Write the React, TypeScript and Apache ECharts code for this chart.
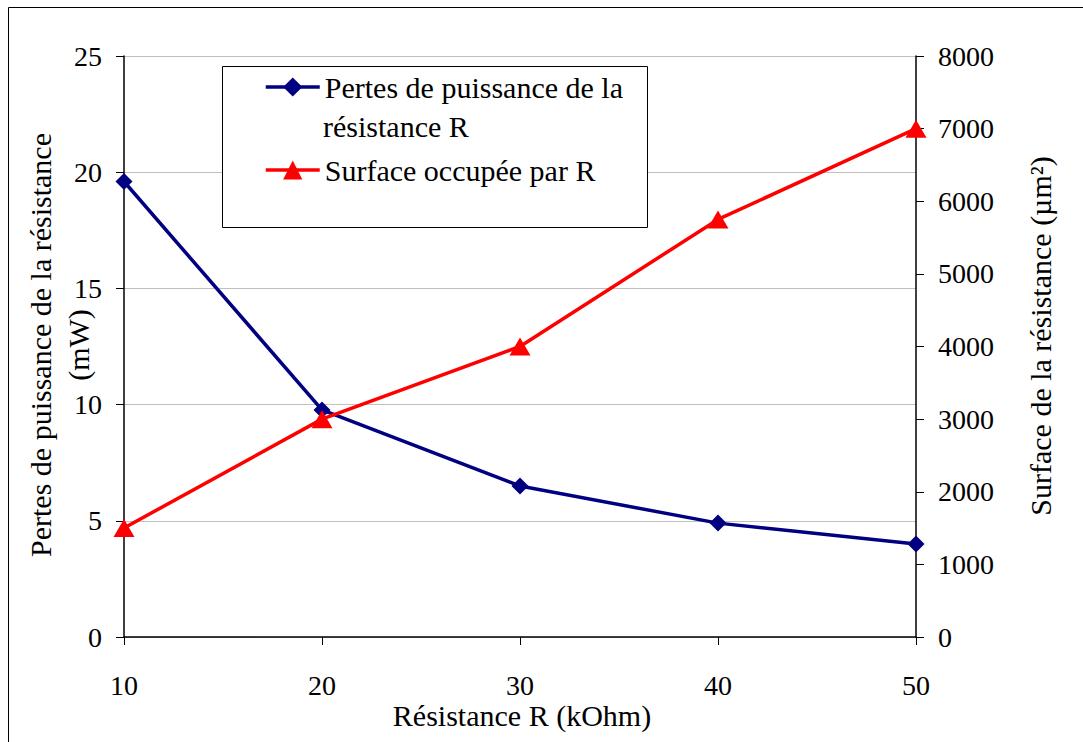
import React, { useEffect, useRef } from "react";
import * as echarts from "echarts";

const categories = ["10", "20", "30", "40", "50"];
const pertes = [19.6, 9.77, 6.5, 4.9, 4.0];
const surface = [1500, 3000, 4000, 5750, 7000];
const leftTicks = { min: 0, max: 25, interval: 5 };
const rightTicks = { min: 0, max: 8000, interval: 1000 };

const FONT = "Times New Roman, Liberation Serif, DejaVu Serif, serif";
const FS = 28;
const FT = 30;

export default function App() {
  const ref = useRef<HTMLDivElement>(null);
  useEffect(() => {
    if (!ref.current) return;
    const chart = echarts.init(ref.current, undefined, { renderer: "svg" });
    chart.setOption({
      animation: false,
      backgroundColor: "#ffffff",
      textStyle: { fontFamily: FONT, color: "#000" },
      grid: { left: 124, right: 167, top: 56, bottom: 105, containLabel: false },
      legend: {
        left: 264,
        top: 72,
        z: 10,
        padding: 0,
        orient: "vertical",
        itemWidth: 54,
        itemHeight: 24,
        itemGap: 53,
        lineStyle: { width: 3.5 },
        textStyle: { fontFamily: FONT, fontSize: FT, color: "#000" },
        data: [
          { name: "Pertes de puissance de la" },
          { name: "Surface occupée par R" },
        ],
      },
      xAxis: {
        type: "category",
        data: categories,
        boundaryGap: false,
        axisLine: { lineStyle: { color: "#000", width: 1.5 } },
        axisTick: { show: true, length: 8, inside: false, lineStyle: { color: "#000" } },
        axisLabel: { fontFamily: FONT, fontSize: FS, color: "#000", margin: 34 },
        splitLine: { show: false },
      },
      yAxis: [
        {
          type: "value",
          ...leftTicks,
          position: "left",
          axisLine: { show: true, lineStyle: { color: "#000", width: 1.5 } },
          axisTick: { show: true, length: 8, lineStyle: { color: "#000" } },
          axisLabel: { fontFamily: FONT, fontSize: FS, color: "#000", margin: 22, formatter: (v: number) => String(v) },
          splitLine: { show: true, lineStyle: { color: "#c0c0c0", width: 1 } },
        },
        {
          type: "value",
          ...rightTicks,
          position: "right",
          axisLine: { show: true, lineStyle: { color: "#000", width: 1.5 } },
          axisTick: { show: true, length: 8, lineStyle: { color: "#000" } },
          axisLabel: { fontFamily: FONT, fontSize: FS, color: "#000", margin: 22, formatter: (v: number) => String(v) },
          splitLine: { show: false },
        },
      ],
      series: [
        {
          name: "Pertes de puissance de la",
          type: "line",
          yAxisIndex: 0,
          data: pertes,
          symbol: "diamond",
          symbolSize: 17,
          lineStyle: { color: "#000080", width: 3.5 },
          itemStyle: { color: "#000080" },
        },
        {
          name: "Surface occupée par R",
          type: "line",
          yAxisIndex: 1,
          data: surface,
          symbol: "triangle",
          symbolSize: [21, 18],
          lineStyle: { color: "#ff0000", width: 3.5 },
          itemStyle: { color: "#ff0000" },
        },
      ],
      graphic: [
        {
          type: "rect",
          shape: { x: 8.5, y: 7.5, width: 1200, height: 900 },
          style: { fill: "none", stroke: "#000", lineWidth: 1 },
          silent: true,
          z: -10,
        },
        {
          type: "rect",
          shape: { x: 222.5, y: 66.5, width: 425, height: 161 },
          style: { fill: "#fff", stroke: "#000", lineWidth: 1 },
          z: 3,
          silent: true,
        },
        {
          type: "text",
          x: 323,
          y: 126,
          z: 11,
          style: {
            text: "résistance R",
            fontFamily: FONT,
            fontSize: FT,
            fill: "#000",
            textAlign: "left",
            textVerticalAlign: "middle",
          },
        },
        {
          type: "text",
          x: 59,
          y: 345,
          rotation: Math.PI / 2,
          style: {
            text: "Pertes de puissance de la résistance\n(mW)",
            fontFamily: FONT,
            fontSize: FT,
            lineHeight: 38,
            fill: "#000",
            textAlign: "center",
            textVerticalAlign: "middle",
          },
        },
        {
          type: "text",
          x: 1040,
          y: 336,
          rotation: Math.PI / 2,
          style: {
            text: "Surface de la résistance (µm²)",
            fontFamily: FONT,
            fontSize: FT,
            fill: "#000",
            textAlign: "center",
            textVerticalAlign: "middle",
          },
        },
        {
          type: "text",
          x: 522,
          y: 715,
          style: {
            text: "Résistance R (kOhm)",
            fontFamily: FONT,
            fontSize: FT,
            fill: "#000",
            textAlign: "center",
            textVerticalAlign: "middle",
          },
        },
      ],
    });
    return () => chart.dispose();
  }, []);
  return (
    <div
      ref={ref}
      style={{ position: "fixed", left: 0, top: 0, width: 1083, height: 742, background: "#fff" }}
    />
  );
}
